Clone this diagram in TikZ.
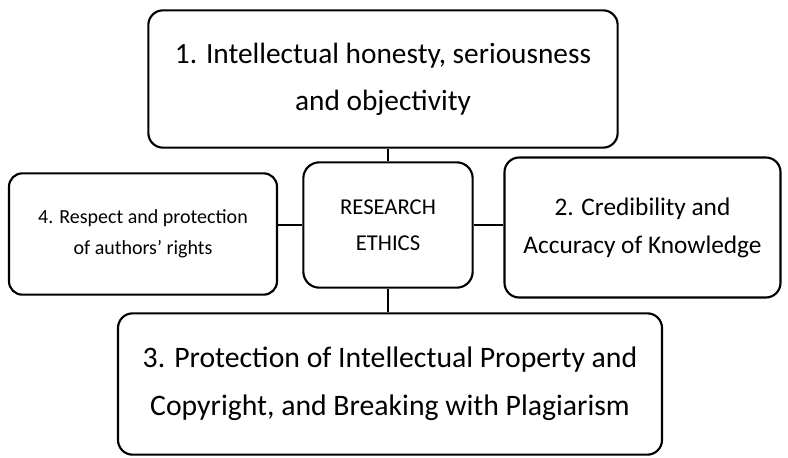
\documentclass[tikz,border=0pt]{standalone}
\usepackage{fontspec}
\setmainfont{Carlito}
\usetikzlibrary{calc}
\tikzset{
  topic/.style={
    rectangle,
    draw=black, line width=1.6pt,
    align=center,
    inner sep=2pt,
    rounded corners=11pt},
  link/.style={draw=black, line width=1.5pt},
}

\begin{document}
\begin{tikzpicture}[x=0.75pt,y=-0.75pt]
\useasboundingbox (0,0) rectangle (788,457);

\node[topic, minimum width=352pt, minimum height=103pt, font=\fontsize{22}{35}\selectfont] at (383,79) (honesty)
  {1. Intellectual honesty, seriousness\\and objectivity};
\node[topic, minimum width=127pt, minimum height=94pt, rounded corners=12pt, font=\fontsize{17}{27}\selectfont] at (388,225) (ethics)
  {RESEARCH\\ETHICS};
\node[topic, minimum width=201pt, minimum height=91pt, rounded corners=10pt, font=\fontsize{15}{23}\selectfont] at (143,234) (respect)
  {4. Respect and protection\\of authors' rights};
\node[topic, minimum width=207pt, minimum height=105pt, font=\fontsize{19}{28.5}\selectfont] at (642.5,227.5) (credibility)
  {2. Credibility and\\Accuracy of Knowledge};
\node[topic, minimum width=408pt, minimum height=106pt, font=\fontsize{22.3}{36}\selectfont] at (390,384) (protection)
  {3. Protection of Intellectual Property and\\Copyright, and Breaking with Plagiarism};

\draw[link] (ethics.north) -- (ethics.north |- honesty.south);
\draw[link] (ethics.west) -- (ethics.west -| respect.east);
\draw[link] (ethics.east) -- (ethics.east -| credibility.west);
\draw[link] (ethics.south) -- (ethics.south |- protection.north);
\end{tikzpicture}
\end{document}
